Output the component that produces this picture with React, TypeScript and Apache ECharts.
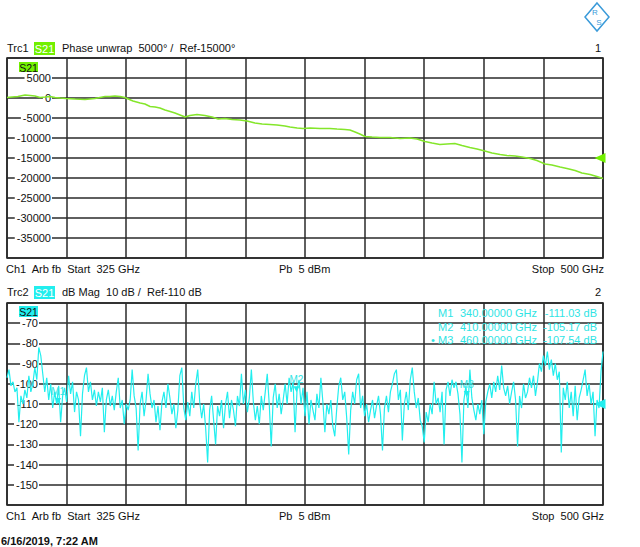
import React, { useEffect, useRef } from "react";
import * as echarts from "echarts";

const FONT = '"Liberation Sans", Arial, Helvetica, sans-serif';
const GREEN_LINE = "#84e62a";
const GREEN_BOX = "#72f000";
const CYAN = "#22eeee";
const CYAN_TEXT = "#30e4e4";
const GRID = "#2a2a2a";

const startGHz = 325;
const stopGHz = 500;

// Trace 1: Phase unwrap (degrees)
const phaseFreq = [
  325.0, 326.5, 328.2, 330.3, 331.8, 333.2, 334.7, 336.2, 337.6, 339.1,
  340.6, 342.3, 345.0, 347.9, 350.8, 352.3, 353.8, 355.2, 356.7, 358.2,
  359.6, 362.0, 364.1, 365.5, 367.0, 368.5, 369.9, 371.4, 372.9, 374.3,
  375.8, 377.3, 378.7, 380.8, 383.1, 385.2, 387.0, 389.0, 391.1, 393.4,
  395.5, 397.8, 399.9, 402.2, 404.3, 406.6, 408.1, 410.2, 411.9, 414.0,
  416.9, 419.8, 421.9, 424.2, 425.7, 427.2, 428.6, 430.1, 432.2, 434.5,
  437.5, 440.4, 443.3, 445.4, 447.7, 449.8, 452.1, 454.2, 456.5, 458.6,
  460.9, 463.0, 465.3, 467.4, 469.8, 471.8, 474.2, 476.2, 478.6, 480.6,
  483.0, 485.0, 487.4, 489.4, 491.8, 493.8, 496.2, 498.2, 500.0,
];
const phaseDeg = [
  125, 250, 375, 750, 625, 500, 125, 250, 375, 125,
  0, -125, -250, -375, -125, 125, 375, 375, 500, 375,
  125, -750, -1250, -1500, -2125, -2250, -2500, -3000, -3375, -3750,
  -4250, -4750, -4375, -4125, -4375, -4750, -5250, -5125, -5375, -5500,
  -5750, -6250, -6500, -6625, -6750, -7000, -7250, -7500, -7625, -7500,
  -7625, -7625, -7750, -7875, -8000, -8500, -9000, -9625, -9750, -9875,
  -9875, -10125, -10000, -10250, -10875, -11250, -11625, -11500, -11375, -11875,
  -12375, -12750, -13250, -13750, -14125, -14375, -14500, -14750, -15125, -15625,
  -16500, -16750, -17250, -17625, -18125, -18750, -19125, -19625, -20125,
];

// Trace 2: dB Mag, sampled evenly from start to stop
const magDb = [
  -97, -93, -101, -99, -104, -102, -119, -106, -110, -103,
  -107, -96, -104, -100, -92, -98, -82, -86, -95, -104,
  -97, -108, -100, -112, -104, -110, -101, -119, -106, -102,
  -109, -96, -105, -99, -114, -104, -108, -126, -105, -96,
  -92, -104, -99, -108, -103, -111, -104, -109, -102, -124,
  -108, -103, -111, -106, -113, -104, -97, -112, -108, -120,
  -110, -113, -108, -93, -106, -112, -133, -110, -104, -116,
  -108, -95, -105, -112, -108, -119, -111, -123, -109, -104,
  -112, -100, -107, -115, -110, -122, -113, -96, -92, -112,
  -118, -109, -116, -104, -112, -100, -93, -109, -117, -110,
  -122, -139, -113, -106, -118, -130, -111, -116, -108, -122,
  -110, -104, -117, -108, -113, -121, -106, -111, -95, -110,
  -103, -114, -107, -93, -109, -118, -111, -120, -106, -113,
  -104, -95, -110, -131, -107, -100, -112, -105, -115, -108,
  -100, -110, -97, -104, -99, -124, -103, -98, -110, -102, -116, -104, -120,
  -108, -113, -118, -105, -112, -97, -109, -124, -110, -115,
  -108, -121, -126, -112, -101, -97, -108, -104, -117, -135, -113,
  -104, -110, -98, -95, -112, -106, -116, -110, -119, -113,
  -108, -117, -111, -106, -115, -133, -112, -106, -114, -104,
  -100, -95, -93, -108, -103, -128, -110, -104, -113, -98,
  -92, -104, -112, -107, -118, -121, -129, -114, -119, -110,
  -115, -99, -110, -107, -114, -104, -130, -103, -99, -106,
  -98, -102, -99, -105, -115, -139, -108, -101, -112, -93,
  -107, -113, -118, -110, -115, -108, -125, -109, -104, -100,
  -107, -99, -104, -96, -103, -91, -102, -106, -101, -110,
  -104, -99, -108, -131, -106, -112, -100, -107, -104, -97,
  -102, -96, -106, -99, -90, -94, -86, -91, -84, -93,
  -88, -96, -90, -98, -94, -134, -102, -108, -99, -112,
  -104, -116, -101, -118, -107, -103, -98, -93, -106, -100,
  -110, -104, -126, -108, -112, -94, -84,
];

// Markers on trace 2
const markerNames = ["M1", "M2", "M3"];
const markerFreq = [340, 410, 460];
const markerDb = [-111.03, -105.17, -107.54];

// Axis settings
const phaseMin = -40000;
const phaseMax = 10000;
const phaseStep = 5000;
const phaseRef = -15000;
const magMin = -160;
const magMax = -60;
const magStep = 10;
const magRef = -110;

function txt(x: number, y: number, text: string, opts: any = {}) {
  return {
    type: "text",
    x,
    y,
    z: 100,
    style: {
      text,
      fill: opts.fill || "#111",
      font: opts.font || `11px ${FONT}`,
      align: opts.align || "left",
      verticalAlign: "middle",
    },
  };
}

function box(x: number, y: number, w: number, h: number, fill: string, text: string, color: string, font?: string) {
  return [
    { type: "rect", z: 99, shape: { x, y, width: w, height: h }, style: { fill } },
    txt(x + w / 2, y + h / 2 + 0.5, text, { fill: color, align: "center", font }),
  ];
}

export default function App() {
  const ref = useRef<HTMLDivElement>(null);

  useEffect(() => {
    if (!ref.current) return;
    const chart = echarts.init(ref.current, null, { renderer: "svg", width: 640, height: 547 });

    const n = magDb.length;
    const magData = magDb.map((v, i) => [startGHz + (i * (stopGHz - startGHz)) / (n - 1), v]);
    const phaseData = phaseFreq.map((f, i) => [f, phaseDeg[i]]);

    const gridAxis = (gi: number) => ({
      gridIndex: gi,
      type: "value",
      min: 0,
      max: 10,
      interval: 1,
      axisLine: { show: false },
      axisTick: { show: false },
      axisLabel: { show: false },
      splitLine: { show: true, lineStyle: { color: GRID, width: 1.5 } },
    });
    const dataAxis = (gi: number) => ({
      gridIndex: gi,
      type: "value",
      min: startGHz,
      max: stopGHz,
      show: false,
      splitLine: { show: false },
    });
    const yAx = (gi: number, min: number, max: number, step: number, margin: number) => ({
      gridIndex: gi,
      type: "value",
      min,
      max,
      interval: step,
      axisLine: { show: false },
      axisTick: { show: false },
      splitLine: { show: true, lineStyle: { color: GRID, width: 1.5 } },
      axisLabel: {
        inside: true,
        align: "right",
        margin,
        showMinLabel: false,
        showMaxLabel: false,
        formatter: (v: number) => String(v),
        color: "#111",
        fontSize: 11,
        fontFamily: FONT,
        backgroundColor: "#fff",
        padding: [0, 1, 0, 2],
      },
    });

    const markerRows: any[] = [];
    markerNames.forEach((name, i) => {
      const y = 313 + i * 13.5;
      if (i === markerNames.length - 1) markerRows.push(txt(431, y, "•", { fill: CYAN_TEXT }));
      markerRows.push(txt(438, y, name, { fill: CYAN_TEXT }));
      markerRows.push(txt(460, y, markerFreq[i].toFixed(5) + " GHz", { fill: CYAN_TEXT }));
      markerRows.push(txt(597, y, markerDb[i].toFixed(2) + " dB", { fill: CYAN_TEXT, align: "right" }));
    });

    const option: any = {
      animation: false,
      backgroundColor: "#fff",
      grid: [
        { left: 7, top: 58, width: 596, height: 200, show: true, borderColor: "#1a1a1a", borderWidth: 1.5, backgroundColor: "transparent" },
        { left: 7, top: 303, width: 596, height: 202, show: true, borderColor: "#1a1a1a", borderWidth: 1.5, backgroundColor: "transparent" },
      ],
      xAxis: [dataAxis(0), gridAxis(0), dataAxis(1), gridAxis(1)],
      yAxis: [
        yAx(0, phaseMin, phaseMax, phaseStep, 45),
        yAx(1, magMin, magMax, magStep, 32),
      ],
      series: [
        {
          type: "line",
          xAxisIndex: 0,
          yAxisIndex: 0,
          data: phaseData,
          showSymbol: false,
          lineStyle: { color: GREEN_LINE, width: 1.5 },
          silent: true,
          markPoint: {
            silent: true,
            data: [
              {
                coord: [stopGHz, phaseRef],
                symbol: "triangle",
                symbolRotate: 90,
                symbolSize: [10, 11],
                symbolOffset: [-3, 0],
                itemStyle: { color: GREEN_BOX },
                label: { show: false },
              },
            ],
          },
        },
        {
          type: "line",
          xAxisIndex: 2,
          yAxisIndex: 1,
          data: magData,
          showSymbol: false,
          lineStyle: { color: CYAN, width: 1.2 },
          silent: true,
          markPoint: {
            silent: true,
            data: [
              ...markerNames.map((name, i) => ({
                name,
                coord: [markerFreq[i], markerDb[i]],
                symbol: "triangle",
                symbolRotate: 180,
                symbolSize: 6,
                symbolOffset: [0, -5],
                itemStyle: { color: CYAN },
                label: { show: true, position: "top", formatter: "{b}", color: CYAN_TEXT, fontSize: 10, fontFamily: FONT, distance: 2 },
              })),
              {
                coord: [stopGHz, magRef],
                symbol: "triangle",
                symbolRotate: 90,
                symbolSize: [10, 11],
                symbolOffset: [-3, 0],
                itemStyle: { color: CYAN },
                label: { show: false },
              },
            ],
          },
        },
      ],
      graphic: [
        // Logo
        {
          type: "polygon",
          z: 100,
          shape: { points: [[597, 3], [609, 17], [597, 31], [585, 17]] },
          style: { fill: "#fff", stroke: "#3a9ad9", lineWidth: 1.5 },
        },
        txt(595, 12, "R", { fill: "#3a9ad9", font: `8px ${FONT}`, align: "center" }),
        txt(599, 22, "S", { fill: "#3a9ad9", font: `8px ${FONT}`, align: "center" }),

        // Trace 1 header
        txt(7, 48, "Trc1"),
        ...box(34, 42, 21, 13, GREEN_BOX, "S21", "#fff"),
        txt(62, 48, "Phase unwrap  5000° /  Ref-15000°"),
        txt(601, 48, "1", { align: "right" }),
        ...box(19, 62, 19, 10, GREEN_BOX, "S21", "#111", `10.5px ${FONT}`),
        txt(6, 269, "Ch1  Arb fb  Start  325 GHz"),
        txt(279, 269, "Pb  5 dBm"),
        txt(604, 269, "Stop  500 GHz", { align: "right" }),

        // Trace 2 header
        txt(7, 292, "Trc2"),
        ...box(34, 286, 21, 13, CYAN, "S21", "#fff"),
        txt(62, 292, "dB Mag  10 dB /  Ref-110 dB"),
        txt(601, 292, "2", { align: "right" }),
        ...box(19, 306, 19, 11, CYAN, "S21", "#111", `10.5px ${FONT}`),
        ...markerRows,
        txt(6, 516, "Ch1  Arb fb  Start  325 GHz"),
        txt(279, 516, "Pb  5 dBm"),
        txt(604, 516, "Stop  500 GHz", { align: "right" }),

        // Date stamp
        txt(1, 541, "6/16/2019, 7:22 AM", { font: `bold 11px ${FONT}` }),
      ],
    };

    chart.setOption(option);
    return () => chart.dispose();
  }, []);

  return (
    <div
      ref={ref}
      style={{ position: "absolute", left: 0, top: 0, width: 640, height: 547, background: "#fff" }}
    />
  );
}
